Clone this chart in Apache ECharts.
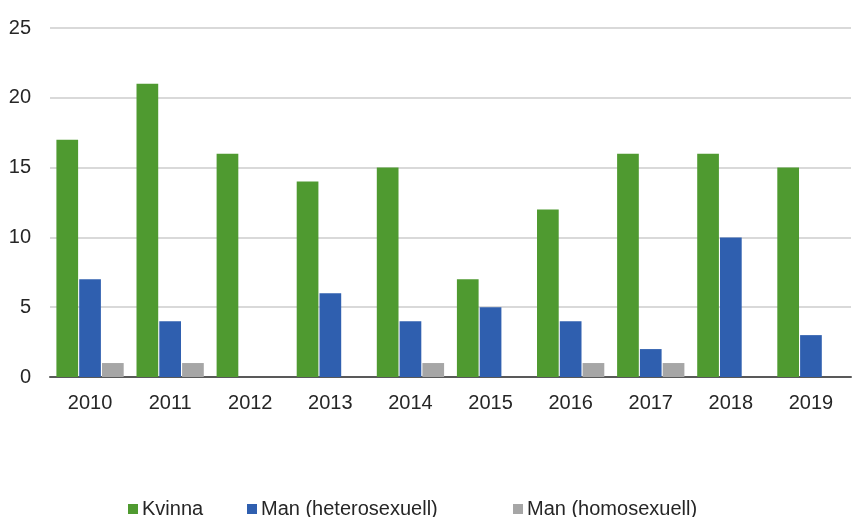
<!DOCTYPE html>
<html>
<head>
<meta charset="UTF-8">
<title>Kvinna / Man</title>
<script type="text/javascript" src="https://cdn.jsdelivr.net/npm/echarts@6/dist/echarts.min.js"></script>
<style>
  body{margin:0;background:#fff}
</style>
</head>
<body>
<div id="main" style="width:852px;height:517px"></div>
<script type="text/javascript">
var years = ['2010','2011','2012','2013','2014','2015','2016','2017','2018','2019'];
var kvinna = [17, 21, 16, 14, 15, 7, 12, 16, 16, 15];
var manHetero = [7, 4, 0, 6, 4, 5, 4, 2, 10, 3];
var manHomo = [1, 1, 0, 0, 1, 0, 1, 1, 0, 0];
var yTicks = [0, 5, 10, 15, 20, 25];

var font = 'Liberation Sans, Arial, sans-serif';
var myEcharts = echarts.init(document.getElementById('main'));

function legendFor(name, left) {
    return {
        data: [name],
        left: left,
        top: 499,
        padding: 0,
        icon: 'rect',
        itemWidth: 10,
        itemHeight: 10,
        itemGap: 0,
        textStyle: {fontFamily: font, fontSize: 20, lineHeight: 20, color: '#262626', padding: [0, 0, 0, -1]}
    };
}

var option = {
    animation: false,
    color: ['#4f9a30', '#2f5faf', '#a6a6a6'],
    legend: [
        legendFor('Kvinna', 128),
        legendFor('Man (heterosexuell)', 247),
        legendFor('Man (homosexuell)', 513)
    ],
    grid: {left: 50, right: 1, top: 28, bottom: 140},
    xAxis: {
        type: 'category',
        data: years,
        axisTick: {show: false},
        axisLine: {lineStyle: {color: '#595959', width: 2}},
        axisLabel: {fontFamily: font, fontSize: 20, color: '#262626', margin: 16}
    },
    yAxis: {
        type: 'value',
        min: yTicks[0],
        max: yTicks[yTicks.length - 1],
        interval: 5,
        axisLine: {show: false},
        axisTick: {show: false},
        splitLine: {lineStyle: {color: '#d9d9d9', width: 2}},
        axisLabel: {fontFamily: font, fontSize: 20, color: '#262626', margin: 19, align: 'right'}
    },
    series: [
        {name: 'Kvinna', type: 'bar', data: kvinna, barGap: '5%', barCategoryGap: '16%'},
        {name: 'Man (heterosexuell)', type: 'bar', data: manHetero},
        {name: 'Man (homosexuell)', type: 'bar', data: manHomo}
    ]
};

myEcharts.setOption(option);
</script>
</body>
</html>
